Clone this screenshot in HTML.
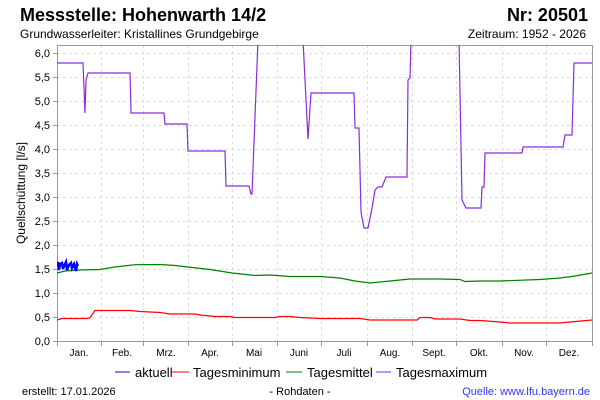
<!DOCTYPE html>
<html><head><meta charset="utf-8"><style>
body{margin:0;background:#fff;}
svg{display:block;font-family:"Liberation Sans",sans-serif;}
</style></head><body>
<svg width="600" height="400" viewBox="0 0 600 400">
<text x="20" y="21" font-size="18" font-weight="bold">Messstelle: Hohenwarth 14/2</text>
<text x="588" y="21" font-size="18" font-weight="bold" text-anchor="end">Nr: 20501</text>
<text x="20" y="38" font-size="12">Grundwasserleiter: Kristallines Grundgebirge</text>
<text x="586" y="38" font-size="12" text-anchor="end">Zeitraum: 1952 - 2026</text>
<g stroke="#ddd" stroke-dasharray="3,3" stroke-width="1">
<path d="M57 53.5H592M57 77.5H592M57 101.5H592M57 125.5H592M57 149.5H592M57 173.5H592M57 197.5H592M57 221.5H592M57 245.5H592M57 269.5H592M57 293.5H592M57 317.5H592"/>
<path d="M101.5 45V341M143.5 45V341M188.5 45V341M232.5 45V341M277.5 45V341M321.5 45V341M367.5 45V341M412.5 45V341M456.5 45V341M502.5 45V341M546.5 45V341"/>
</g>
<g stroke="#999" fill="none"><path d="M57 45.5H592.5V341.5H57.5V45"/>
<path d="M57.5 341V346M101.5 341V346M143.5 341V346M188.5 341V346M232.5 341V346M277.5 341V346M321.5 341V346M367.5 341V346M412.5 341V346M456.5 341V346M502.5 341V346M546.5 341V346M592.5 341V346M53 53.5H57M53 77.5H57M53 101.5H57M53 125.5H57M53 149.5H57M53 173.5H57M53 197.5H57M53 221.5H57M53 245.5H57M53 269.5H57M53 293.5H57M53 317.5H57M53 341.5H57"/></g>
<g font-size="11" text-anchor="end"><text x="50" y="57">6,0</text><text x="50" y="81">5,5</text><text x="50" y="105">5,0</text><text x="50" y="129">4,5</text><text x="50" y="153">4,0</text><text x="50" y="177">3,5</text><text x="50" y="201">3,0</text><text x="50" y="225">2,5</text><text x="50" y="249">2,0</text><text x="50" y="273">1,5</text><text x="50" y="297">1,0</text><text x="50" y="321">0,5</text><text x="50" y="345">0,0</text></g>
<g font-size="10" text-anchor="middle"><text x="79" y="356">Jan.</text><text x="122" y="356">Feb.</text><text x="166" y="356">Mrz.</text><text x="210" y="356">Apr.</text><text x="254" y="356">Mai</text><text x="299" y="356">Juni</text><text x="344" y="356">Juli</text><text x="390" y="356">Aug.</text><text x="434" y="356">Sept.</text><text x="479" y="356">Okt.</text><text x="524" y="356">Nov.</text><text x="569" y="356">Dez.</text></g>
<text transform="translate(25,193) rotate(-90)" font-size="12" text-anchor="middle">Quellschüttung [l/s]</text>
<svg x="57" y="45" width="536" height="297" overflow="hidden"><g transform="translate(-57,-45)" fill="none" stroke-width="1.2">
<path stroke="#8a2be2" d="M57 63H83L85 113L86 80L88 73H130L131 113H164L165 124H187L188 151H225L226 186H249L251 194H252L258 40M303 40L308 139L311 93H354L355 128H359L361 212L364 228H368L372 208L375 190L378 187H382L386 177H407L408 80L410 78L411 40M459 40L462 200L466 208H481L482 187H484L485 153H522L523 147H563L565 135H572L574 63H592"/>
<path stroke="#008000" d="M57 273L65 271L80 270L100 269.5L115 267L135 264.7L160 264.5L175 265.5L188 267L210 269.5L232 273L255 275.5L270 275L290 276.5L320 276.5L340 278L355 281L370 283L390 281L410 279L440 279L460 279.5L465 281.5L480 281L500 281L540 279.5L560 278L575 276L592 273"/>
<path stroke="#f00" d="M57 320L62 318.5H88L90 317.5L95 310.5H130L140 311.5L160 312.5L170 314H195L200 315L215 316.5H230L235 317.5H275L280 316.5H290L300 317.5L320 318.5H360L370 320H417L420 317.5H430L435 319H460L470 320.5H480L500 322L510 323H560L570 322L592 320"/>
<path stroke="#00f" stroke-width="2.5" d="M57 266L58 262L59 270L60 264L62 263L63 269L64 266L66 262L67 270L69 265L71 263L72 268L74 264L76 271L77 264L78 266"/>
</g></svg>
<g font-size="13"><path d="M115 372H130" stroke="#00f"/><text x="135" y="377">aktuell</text>
<path d="M172 372H189" stroke="#f00"/><text x="193" y="377">Tagesminimum</text>
<path d="M286 372H302" stroke="#008000"/><text x="307" y="377">Tagesmittel</text>
<path d="M376 372H391" stroke="#8a2be2"/><text x="396" y="377">Tagesmaximum</text></g>
<g font-size="11"><text x="22" y="395">erstellt:  17.01.2026</text><text x="300" y="395" text-anchor="middle">- Rohdaten -</text><text x="590" y="395" text-anchor="end" fill="#33f">Quelle: www.lfu.bayern.de</text></g>
</svg>
</body></html>
